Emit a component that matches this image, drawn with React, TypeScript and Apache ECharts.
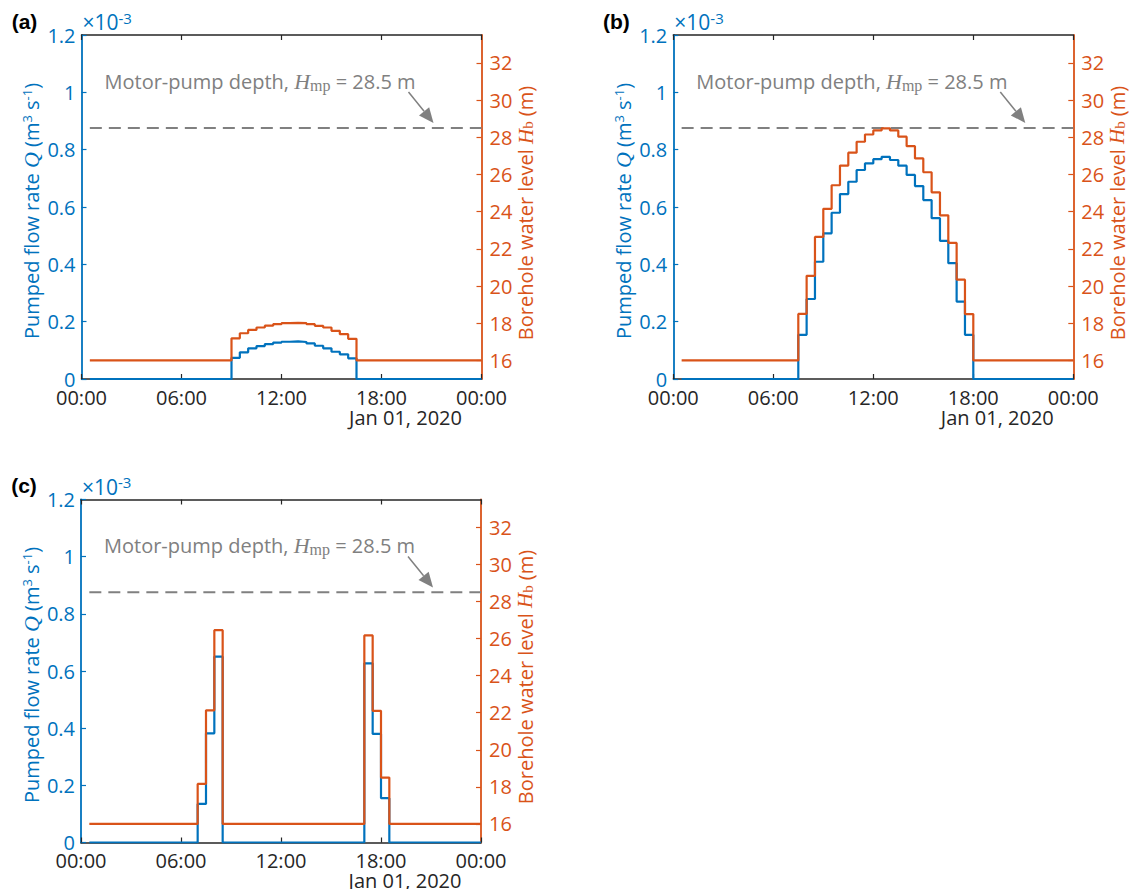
import React, { useEffect, useRef } from "react";
import * as echarts from "echarts";

// ---------- data ----------
const timeTickLabels = ["00:00", "06:00", "12:00", "18:00", "00:00"];
const levelTickValues = [16, 18, 20, 22, 24, 26, 28, 30, 32];
const panelLetters = ["(a)", "(b)", "(c)"];
const dateLabel = "Jan 01, 2020";

const seriesStartHour = 0.5;
const seriesEndHour = 24;
const stepHours = 0.5;
const baseFlow = 0; // x1e-3 m3/s
const baseLevel = 16; // m
const pumpDepth = 28.5; // m

// panel (a)
const pulseStartsA = [9.0];
const flowA1 = [0.074, 0.093, 0.107, 0.115, 0.122, 0.127, 0.13, 0.131, 0.129, 0.124, 0.116, 0.107, 0.095, 0.086, 0.072];
const levelA1 = [17.19, 17.46, 17.64, 17.77, 17.87, 17.95, 18.0, 18.02, 18.0, 17.95, 17.86, 17.77, 17.59, 17.41, 17.16];

// panel (b)
const pulseStartsB = [7.5];
const flowB1 = [0.154, 0.279, 0.409, 0.508, 0.58, 0.645, 0.688, 0.729, 0.752, 0.767, 0.775, 0.764, 0.744, 0.712, 0.673, 0.624, 0.561, 0.482, 0.404, 0.27, 0.154];
const levelB1 = [18.5, 20.55, 22.64, 24.15, 25.42, 26.48, 27.17, 27.76, 28.15, 28.37, 28.48, 28.37, 28.03, 27.52, 26.86, 26.12, 25.04, 23.8, 22.32, 20.34, 18.49];

// panel (c)
const pulseStartsC = [7.0, 17.0];
const flowC1 = [0.135, 0.382, 0.65];
const flowC2 = [0.627, 0.38, 0.155];
const levelC1 = [18.16, 22.13, 26.45];
const levelC2 = [26.17, 22.1, 18.5];

// ---------- layout / style ----------
const BLUE = "#0072BD";
const ORANGE = "#D95319";
const DARK = "#262626";
const GREY = "#808080";
const FONT = "'Open Sans', 'Noto Sans', sans-serif";
const SERIF = "'Liberation Serif', 'DejaVu Serif', serif";
const FS = 20;
const PAGE_H = 889;

const grids = [
  { left: 81.5, top: 35, width: 400, height: 344 },
  { left: 673.3, top: 35, width: 400, height: 344 },
  { left: 81, top: 499.5, width: 400, height: 343 },
];

function stairs(starts: number[], pulses: number[][], base: number) {
  const pts: number[][] = [[seriesStartHour, base]];
  starts.forEach((s, k) => {
    pulses[k].forEach((v, i) => pts.push([s + i * stepHours, v]));
    pts.push([s + pulses[k].length * stepHours, base]);
  });
  pts.push([seriesEndHour, base]);
  return pts;
}

const panelData = [
  { flow: stairs(pulseStartsA, [flowA1], baseFlow), level: stairs(pulseStartsA, [levelA1], baseLevel) },
  { flow: stairs(pulseStartsB, [flowB1], baseFlow), level: stairs(pulseStartsB, [levelB1], baseLevel) },
  {
    flow: stairs(pulseStartsC, [flowC1, flowC2], baseFlow),
    level: stairs(pulseStartsC, [levelC1, levelC2], baseLevel),
  },
];

function buildOption() {
  const xAxis: any[] = [];
  const yAxis: any[] = [];
  const series: any[] = [];
  const graphic: any[] = [];

  grids.forEach((g, i) => {
    xAxis.push({
      type: "value",
      gridIndex: i,
      position: "bottom",
      min: 0,
      max: 24,
      interval: 6,
      axisLine: { show: true, onZero: false, lineStyle: { color: DARK, width: 1.5 } },
      axisTick: { show: true, inside: true, length: 5, lineStyle: { color: DARK, width: 1.2 } },
      axisLabel: {
        show: true,
        margin: 9,
        color: DARK,
        fontSize: FS,
        lineHeight: 18,
        fontFamily: FONT,
        formatter: (v: number) => timeTickLabels[Math.round(v / 6)],
      },
      splitLine: { show: false },
    });
    xAxis.push({
      type: "value",
      gridIndex: i,
      position: "top",
      min: 0,
      max: 24,
      interval: 6,
      axisLine: { show: true, onZero: false, lineStyle: { color: DARK, width: 1.5 } },
      axisTick: { show: true, inside: true, length: 5, lineStyle: { color: DARK, width: 1.2 } },
      axisLabel: { show: false },
      splitLine: { show: false },
    });
    yAxis.push({
      type: "value",
      gridIndex: i,
      position: "left",
      min: 0,
      max: 1.2,
      interval: 0.2,
      axisLine: { show: true, onZero: false, lineStyle: { color: BLUE, width: 1.8 } },
      axisTick: { show: true, inside: true, length: 5, lineStyle: { color: BLUE, width: 1.2 } },
      axisLabel: {
        margin: 6,
        color: BLUE,
        fontSize: FS,
        lineHeight: 16,
        fontFamily: FONT,
        showMinLabel: true,
        showMaxLabel: true,
      },
      splitLine: { show: false },
    });
    yAxis.push({
      type: "value",
      gridIndex: i,
      position: "right",
      min: 15,
      max: 33.5,
      axisLine: { show: true, onZero: false, lineStyle: { color: ORANGE, width: 1.8 } },
      axisTick: {
        show: true,
        inside: true,
        length: 5,
        customValues: levelTickValues,
        lineStyle: { color: ORANGE, width: 1.2 },
      },
      axisLabel: {
        margin: 8,
        color: ORANGE,
        fontSize: FS,
        lineHeight: 18,
        fontFamily: FONT,
        customValues: levelTickValues,
      },
      splitLine: { show: false },
    });

    const d = panelData[i];
    series.push({
      type: "line",
      name: "Q",
      xAxisIndex: 2 * i,
      yAxisIndex: 2 * i,
      data: d.flow,
      step: "end",
      symbol: "none",
      showSymbol: false,
      lineStyle: { color: BLUE, width: 2.2 },
      itemStyle: { color: BLUE },
      z: 3,
    });
    series.push({
      type: "line",
      name: "Hb",
      xAxisIndex: 2 * i,
      yAxisIndex: 2 * i + 1,
      data: d.level,
      step: "end",
      symbol: "none",
      showSymbol: false,
      lineStyle: { color: ORANGE, width: 2.2 },
      itemStyle: { color: ORANGE },
      z: 4,
    });
    series.push({
      type: "line",
      name: "Hmp",
      xAxisIndex: 2 * i,
      yAxisIndex: 2 * i + 1,
      data: [
        [seriesStartHour, pumpDepth],
        [seriesEndHour, pumpDepth],
      ],
      symbol: "none",
      showSymbol: false,
      lineStyle: { color: GREY, width: 2, type: [12, 7] },
      itemStyle: { color: GREY },
      z: 2,
    });

    const cx = g.left;
    const cy = g.top;
    // panel letter
    graphic.push({
      type: "text",
      x: cx - 57,
      y: cy - 14,
      style: {
        text: panelLetters[i],
        fill: "#000",
        font: "bold 21px 'Liberation Sans', Arial, sans-serif",
        align: "center",
        verticalAlign: "middle",
      },
    });
    // exponent
    graphic.push({
      type: "text",
      x: cx + 1,
      y: cy - 13,
      style: {
        text: "×10{sup|-3}",
        fill: BLUE,
        fontSize: 21,
        fontFamily: FONT,
        lineHeight: 24,
        align: "left",
        verticalAlign: "middle",
        rich: { sup: { fontSize: 15, lineHeight: 15, verticalAlign: "top", fill: BLUE, fontFamily: FONT } },
      },
    });
    // left axis title
    graphic.push({
      type: "text",
      x: cx - 50,
      y: cy + g.height / 2 + 4,
      rotation: Math.PI / 2,
      style: {
        text: "Pumped flow rate {q|Q} (m{sup|3} s{sup|-1})",
        fill: BLUE,
        fontSize: FS,
        fontFamily: FONT,
        lineHeight: 22,
        align: "center",
        verticalAlign: "middle",
        rich: {
          q: { fontSize: 22, lineHeight: 22, fontFamily: SERIF, fontStyle: "italic", fill: BLUE },
          sup: { fontSize: 13, lineHeight: 13, verticalAlign: "top", fill: BLUE, fontFamily: FONT },
        },
      },
    });
    // right axis title
    graphic.push({
      type: "text",
      x: cx + g.width + 44,
      y: cy + g.height / 2 + 6,
      rotation: Math.PI / 2,
      style: {
        text: "Borehole water level {h|H}{sub|b} (m)",
        fill: ORANGE,
        fontSize: FS,
        fontFamily: FONT,
        lineHeight: 20,
        align: "center",
        verticalAlign: "middle",
        rich: {
          h: { fontSize: 21, lineHeight: 20, fontFamily: SERIF, fontStyle: "italic", fill: ORANGE },
          sub: { fontSize: 15, lineHeight: 12, verticalAlign: "bottom", fontFamily: SERIF, fill: ORANGE },
        },
      },
    });
    // date
    graphic.push({
      type: "text",
      x: cx + g.width - 76,
      y: Math.min(cy + g.height + 38, PAGE_H - 9),
      style: {
        text: dateLabel,
        fill: DARK,
        fontSize: FS,
        lineHeight: 18,
        fontFamily: FONT,
        align: "center",
        verticalAlign: "middle",
      },
    });
    // annotation
    graphic.push({
      type: "text",
      x: cx + 23,
      y: cy + 46,
      style: {
        text: "Motor-pump depth, {h|H}{sub|mp} = 28.5 m",
        fill: GREY,
        fontSize: FS,
        fontFamily: FONT,
        lineHeight: 24,
        align: "left",
        verticalAlign: "middle",
        rich: {
          h: { fontSize: 22, lineHeight: 24, fontFamily: SERIF, fontStyle: "italic", fill: GREY },
          sub: { fontSize: 16, lineHeight: 15, verticalAlign: "bottom", fontFamily: SERIF, fill: GREY },
        },
      },
    });
    // arrow
    const tail = [cx + 327, cy + 57];
    const tip = [cx + 352, cy + 88];
    const dx = tip[0] - tail[0];
    const dy = tip[1] - tail[1];
    const len = Math.sqrt(dx * dx + dy * dy);
    const ux = dx / len;
    const uy = dy / len;
    const hl = 15;
    const hw = 6.5;
    const bx = tip[0] - hl * ux;
    const by = tip[1] - hl * uy;
    graphic.push({
      type: "line",
      shape: { x1: tail[0], y1: tail[1], x2: bx, y2: by },
      style: { stroke: GREY, lineWidth: 1.5 },
    });
    graphic.push({
      type: "polygon",
      shape: {
        points: [
          [tip[0], tip[1]],
          [bx - hw * uy, by + hw * ux],
          [bx + hw * uy, by - hw * ux],
        ],
      },
      style: { fill: GREY },
    });
  });

  return {
    animation: false,
    backgroundColor: "#ffffff",
    grid: grids.map((g) => ({ ...g, containLabel: false })),
    xAxis,
    yAxis,
    series,
    graphic,
  };
}

export default function App() {
  const ref = useRef<HTMLDivElement>(null);
  useEffect(() => {
    if (!ref.current) return;
    const chart = echarts.init(ref.current, undefined, { renderer: "svg" });
    chart.setOption(buildOption() as any);
    return () => chart.dispose();
  }, []);
  return (
    <div
      ref={ref}
      style={{ position: "fixed", left: 0, top: 0, width: 1131, height: 889, background: "#fff" }}
    />
  );
}
